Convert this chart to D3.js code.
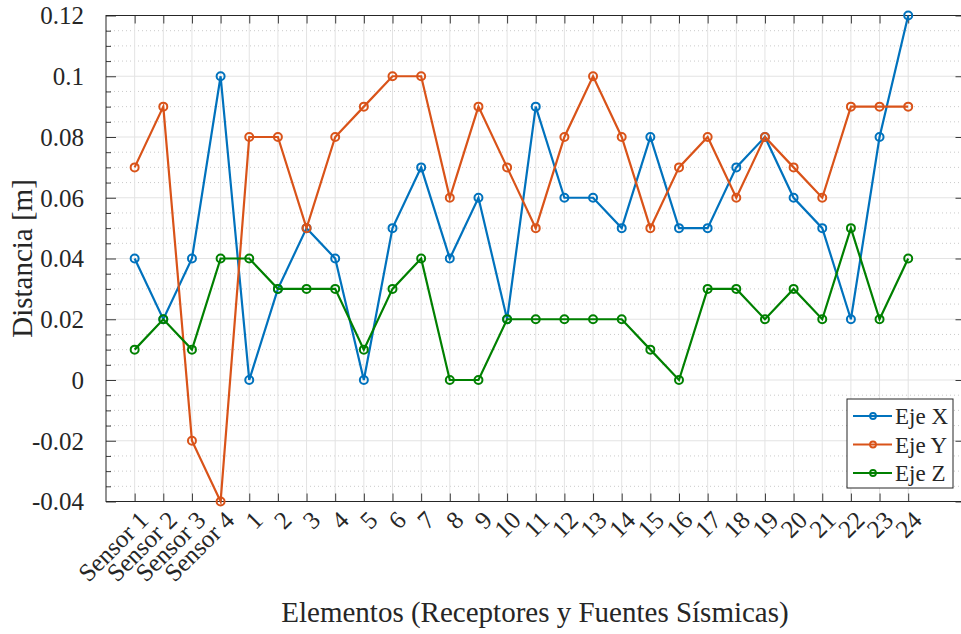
<!DOCTYPE html>
<html>
<head>
<meta charset="utf-8">
<script src="https://cdn.jsdelivr.net/npm/d3@7"></script>
<style>
  html, body { margin: 0; padding: 0; background: #fff; overflow: hidden; }
</style>
</head>
<body>
<div id="app"></div>
<script>
// categories along the x axis
const categories = ["Sensor 1", "Sensor 2", "Sensor 3", "Sensor 4",
  "1", "2", "3", "4", "5", "6", "7", "8", "9", "10", "11", "12",
  "13", "14", "15", "16", "17", "18", "19", "20", "21", "22", "23", "24"];

// values [m]
const ejeX = [0.04, 0.02, 0.04, 0.10, 0, 0.03, 0.05, 0.04, 0, 0.05, 0.07, 0.04, 0.06, 0.02,
  0.09, 0.06, 0.06, 0.05, 0.08, 0.05, 0.05, 0.07, 0.08, 0.06, 0.05, 0.02, 0.08, 0.12];
const ejeY = [0.07, 0.09, -0.02, -0.04, 0.08, 0.08, 0.05, 0.08, 0.09, 0.10, 0.10, 0.06, 0.09, 0.07,
  0.05, 0.08, 0.10, 0.08, 0.05, 0.07, 0.08, 0.06, 0.08, 0.07, 0.06, 0.09, 0.09, 0.09];
const ejeZ = [0.01, 0.02, 0.01, 0.04, 0.04, 0.03, 0.03, 0.03, 0.01, 0.03, 0.04, 0, 0, 0.02,
  0.02, 0.02, 0.02, 0.02, 0.01, 0, 0.03, 0.03, 0.02, 0.03, 0.02, 0.05, 0.02, 0.04];

const yTicks = [-0.04, -0.02, 0, 0.02, 0.04, 0.06, 0.08, 0.1, 0.12];
const yTickLabels = ["-0.04", "-0.02", "0", "0.02", "0.04", "0.06", "0.08", "0.1", "0.12"];

const series = [
  { name: "Eje X", values: ejeX, color: "#0072BD" },
  { name: "Eje Y", values: ejeY, color: "#D95319" },
  { name: "Eje Z", values: ejeZ, color: "#008000" }
];

const font = "'Liberation Serif', 'Times New Roman', serif";
const txtColor = "#262626";

const w = 961, h = 634;
const pLeft = 106, pTop = 15.5, pBottom = 501.5;

const svg = d3.select("#app").append("svg")
  .attr("width", w)
  .attr("height", h)
  .style("background-color", "#fff");

const xScale = d3.scaleLinear().domain([0, 30]).range([pLeft, pLeft + 30 * 28.65]);
const yScale = d3.scaleLinear().domain([-0.04, 0.12]).range([pBottom, pTop]);
const pRight = xScale(30);

const idx = d3.range(1, categories.length + 1);
const minorY = d3.range(-0.04, 0.1201, 0.005).filter(v => Math.abs(Math.round(v * 50) - v * 50) > 1e-6);

// grid
const grid = svg.append("g");
grid.selectAll(".minor")
  .data(minorY).enter().append("line")
  .attr("x1", pLeft).attr("x2", pRight)
  .attr("y1", d => yScale(d)).attr("y2", d => yScale(d))
  .attr("stroke", "#bdbdbd").attr("stroke-width", 0.8)
  .attr("stroke-dasharray", "1,3");
grid.selectAll(".majY")
  .data(yTicks).enter().append("line")
  .attr("x1", pLeft).attr("x2", pRight)
  .attr("y1", d => yScale(d)).attr("y2", d => yScale(d))
  .attr("stroke", "#e3e3e3").attr("stroke-width", 1);
grid.selectAll(".majX")
  .data(idx).enter().append("line")
  .attr("x1", d => xScale(d)).attr("x2", d => xScale(d))
  .attr("y1", pTop).attr("y2", pBottom)
  .attr("stroke", "#e3e3e3").attr("stroke-width", 1);

// axes (ticks pointing inward)
const xAxis = d3.axisTop(xScale).tickValues(idx).tickSize(8).tickFormat("");
svg.append("g").attr("transform", "translate(0," + pBottom + ")").call(xAxis);
svg.append("g").attr("transform", "translate(0," + pTop + ")")
  .call(d3.axisBottom(xScale).tickValues(idx).tickSize(8).tickFormat(""));

const yAxis = d3.axisRight(yScale).tickValues(yTicks).tickSize(10).tickFormat("");
svg.append("g").attr("transform", "translate(" + pLeft + ",0)").call(yAxis);
svg.append("g").attr("transform", "translate(" + pLeft + ",0)")
  .call(d3.axisRight(yScale).tickValues(minorY).tickSize(5).tickFormat(""));
svg.append("g").attr("transform", "translate(" + pRight + ",0)")
  .call(d3.axisLeft(yScale).tickValues(yTicks).tickSize(10).tickFormat(""));

svg.selectAll(".domain").remove();
svg.selectAll(".tick line").attr("stroke", "#262626").attr("stroke-width", 0.9);

// box
svg.append("rect")
  .attr("x", pLeft).attr("y", pTop)
  .attr("width", pRight - pLeft).attr("height", pBottom - pTop)
  .attr("fill", "none").attr("stroke", "#262626").attr("stroke-width", 1);

// tick labels
svg.append("g").selectAll("text")
  .data(yTicks).enter().append("text")
  .attr("x", pLeft - 22).attr("y", d => yScale(d))
  .attr("dy", "0.35em")
  .style("text-anchor", "end")
  .style("font-family", font).style("fill", txtColor)
  .style("font-size", "25px")
  .text((d, i) => yTickLabels[i]);

svg.append("g").selectAll("text")
  .data(categories).enter().append("text")
  .attr("transform", (d, i) => "translate(" + (xScale(i + 1) + 9) + "," + (pBottom + 14) + ") rotate(-45)")
  .attr("dy", "0.35em")
  .style("text-anchor", "end")
  .style("font-family", font).style("fill", txtColor)
  .style("font-size", "25px")
  .text(d => d);

// axis titles
svg.append("text")
  .attr("transform", "rotate(-90)")
  .attr("x", -(pTop + pBottom) / 2)
  .attr("y", 32)
  .style("text-anchor", "middle")
  .style("font-family", font).style("fill", txtColor)
  .style("font-size", "29px")
  .text("Distancia [m]");

svg.append("text")
  .attr("x", 535)
  .attr("y", 622)
  .style("text-anchor", "middle")
  .style("font-family", font).style("fill", txtColor)
  .style("font-size", "29px")
  .text("Elementos (Receptores y Fuentes Sísmicas)");

// lines and markers
const line = d3.line().x((d, i) => xScale(i + 1)).y(d => yScale(d));
const plot = svg.append("g");
series.forEach(s => {
  plot.append("path")
    .datum(s.values)
    .attr("d", line)
    .attr("fill", "none")
    .attr("stroke", s.color)
    .attr("stroke-width", 2.2);
  plot.selectAll(null)
    .data(s.values).enter().append("circle")
    .attr("cx", (d, i) => xScale(i + 1))
    .attr("cy", d => yScale(d))
    .attr("r", 4)
    .attr("fill", "none")
    .attr("stroke", s.color)
    .attr("stroke-width", 2);
});

// legend
const legend = svg.append("g").attr("transform", "translate(847,399)");
legend.append("rect")
  .attr("width", 106).attr("height", 89)
  .attr("fill", "#fff").attr("stroke", "#262626").attr("stroke-width", 1);
series.forEach((s, i) => {
  const yy = 17 + i * 28.5;
  legend.append("line")
    .attr("x1", 6).attr("x2", 45).attr("y1", yy).attr("y2", yy)
    .attr("stroke", s.color).attr("stroke-width", 2.2);
  legend.append("circle")
    .attr("cx", 26).attr("cy", yy).attr("r", 3)
    .attr("fill", "none").attr("stroke", s.color).attr("stroke-width", 1.8);
  legend.append("text")
    .attr("x", 48).attr("y", yy).attr("dy", "0.35em")
    .style("font-family", font).style("fill", txtColor)
    .style("font-size", "23px")
    .text(s.name);
});
</script>
</body>
</html>
